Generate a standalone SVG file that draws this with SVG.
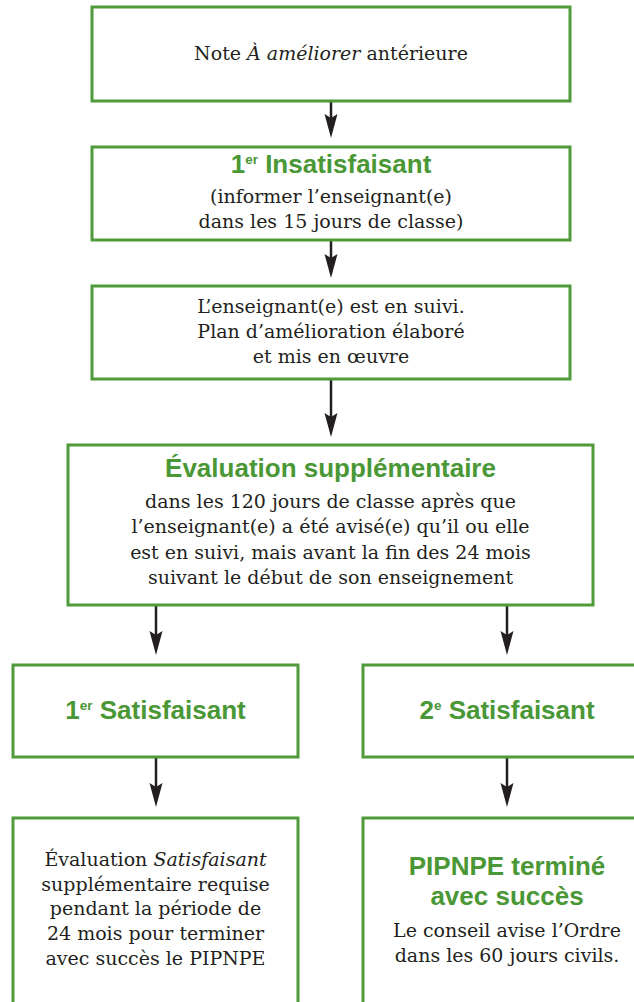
<svg xmlns="http://www.w3.org/2000/svg" width="634" height="1002" viewBox="0 0 634 1002">
  <style>
    .box { fill: #ffffff; stroke: #4f9a3b; stroke-width: 3; }
    .body { font-family: "DejaVu Serif", "Liberation Serif", serif; font-size: 19px; fill: #231f20; text-anchor: middle; }
    .title { font-family: "Liberation Sans", Arial, sans-serif; font-weight: bold; font-size: 26px; fill: #4a9736; text-anchor: middle; }
    .sup { font-size: 13.5px; }
    .conn { stroke: #231f20; stroke-width: 2.5; fill: none; marker-end: url(#head); }
  </style>
  <defs>
    <!-- notched arrowhead; tip sits 10px past the end of the line -->
    <marker id="head" markerUnits="userSpaceOnUse" markerWidth="26" markerHeight="14" refX="14" refY="6.5" orient="auto">
      <path d="M0,0 L24,6.5 L0,13 L4,6.5 Z" fill="#231f20"/>
    </marker>
  </defs>

  <rect width="634" height="1002" fill="#ffffff"/>

  <g id="connectors">
    <line class="conn" x1="331" y1="101" x2="331" y2="128"/>
    <line class="conn" x1="331" y1="240" x2="331" y2="268"/>
    <line class="conn" x1="331" y1="379" x2="331" y2="427"/>
    <line class="conn" x1="156" y1="605" x2="156" y2="645"/>
    <line class="conn" x1="507" y1="605" x2="507" y2="645"/>
    <line class="conn" x1="156" y1="757" x2="156" y2="797"/>
    <line class="conn" x1="507" y1="757" x2="507" y2="797"/>
  </g>

  <g id="note-anterieure">
    <rect class="box" x="92" y="7" width="478" height="94"/>
    <text class="body" x="331" y="60">Note <tspan font-style="italic">À améliorer</tspan> antérieure</text>
  </g>

  <g id="premier-insatisfaisant">
    <rect class="box" x="92" y="147" width="478" height="93"/>
    <text class="title" x="331" y="173">1<tspan class="sup" dy="-9">er</tspan><tspan dy="9"> Insatisfaisant</tspan></text>
    <text class="body" x="331" y="203">(informer l’enseignant(e)</text>
    <text class="body" x="331" y="228">dans les 15 jours de classe)</text>
  </g>

  <g id="en-suivi">
    <rect class="box" x="92" y="286" width="478" height="93"/>
    <text class="body" x="331" y="313">L’enseignant(e) est en suivi.</text>
    <text class="body" x="331" y="338">Plan d’amélioration élaboré</text>
    <text class="body" x="331" y="363">et mis en œuvre</text>
  </g>

  <g id="evaluation-supplementaire">
    <rect class="box" x="68" y="445" width="525" height="160"/>
    <text class="title" x="330.5" y="477">Évaluation supplémentaire</text>
    <text class="body" x="330.5" y="508">dans les 120 jours de classe après que</text>
    <text class="body" x="330.5" y="533">l’enseignant(e) a été avisé(e) qu’il ou elle</text>
    <text class="body" x="330.5" y="559">est en suivi, mais avant la fin des 24 mois</text>
    <text class="body" x="330.5" y="584">suivant le début de son enseignement</text>
  </g>

  <g id="premier-satisfaisant">
    <rect class="box" x="13" y="665" width="285" height="92"/>
    <text class="title" x="155.5" y="719">1<tspan class="sup" dy="-9">er</tspan><tspan dy="9"> Satisfaisant</tspan></text>
  </g>

  <g id="deuxieme-satisfaisant">
    <rect class="box" x="363" y="665" width="288" height="92"/>
    <text class="title" x="507" y="719">2<tspan class="sup" dy="-9">e</tspan><tspan dy="9"> Satisfaisant</tspan></text>
  </g>

  <g id="satisfaisant-requise">
    <rect class="box" x="13" y="818" width="285" height="200"/>
    <text class="body" x="155.5" y="866">Évaluation <tspan font-style="italic">Satisfaisant</tspan></text>
    <text class="body" x="155.5" y="891">supplémentaire requise</text>
    <text class="body" x="155.5" y="915">pendant la période de</text>
    <text class="body" x="155.5" y="940">24 mois pour terminer</text>
    <text class="body" x="155.5" y="965">avec succès le PIPNPE</text>
  </g>

  <g id="pipnpe-termine">
    <rect class="box" x="363" y="818" width="288" height="200"/>
    <text class="title" x="507" y="875">PIPNPE terminé</text>
    <text class="title" x="507" y="905">avec succès</text>
    <text class="body" x="507" y="937">Le conseil avise l’Ordre</text>
    <text class="body" x="507" y="962">dans les 60 jours civils.</text>
  </g>
</svg>
